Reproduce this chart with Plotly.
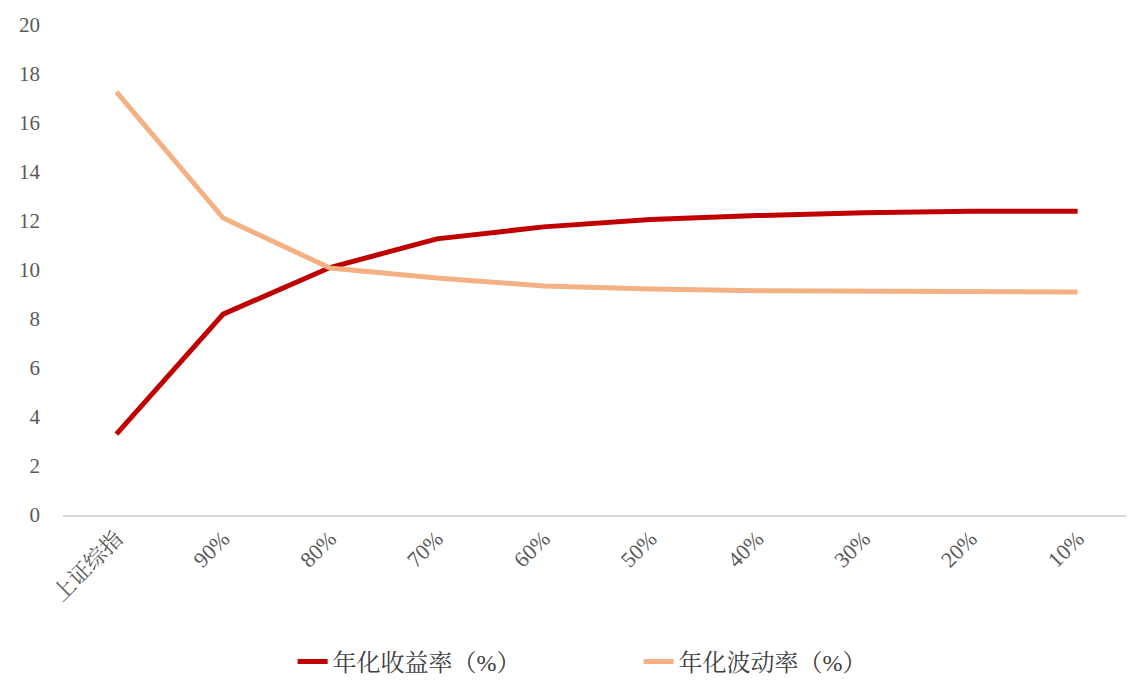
import plotly.graph_objects as go

categories = ["上证综指", "90%", "80%", "70%", "60%", "50%", "40%", "30%", "20%", "10%"]
annual_return = [3.3, 8.2, 10.1, 11.27, 11.76, 12.06, 12.22, 12.34, 12.4, 12.4]
annual_vol = [17.27, 12.12, 10.08, 9.67, 9.35, 9.22, 9.15, 9.14, 9.1, 9.1]
y_ticks = [0, 2, 4, 6, 8, 10, 12, 14, 16, 18, 20]

serif = "Liberation Serif, Noto Serif CJK SC, Noto Sans CJK SC, serif"

fig = go.Figure()
fig.add_trace(go.Scatter(x=categories, y=annual_return, mode="lines",
                         name="年化收益率（%）",
                         line=dict(color="#C00000", width=5)))
fig.add_trace(go.Scatter(x=categories, y=annual_vol, mode="lines",
                         name="年化波动率（%）",
                         line=dict(color="#F4B183", width=5)))

fig.update_layout(
    width=1134, height=687,
    margin=dict(l=55, r=11, t=17, b=180, autoexpand=False),
    paper_bgcolor="white", plot_bgcolor="white",
    font=dict(family=serif, size=21, color="#595959"),
    xaxis=dict(type="category", range=[-0.5, 9.5], tickangle=-45, automargin=False,
               showline=True, linecolor="#D9D9D9", linewidth=2,
               showgrid=False, ticks="", tickfont=dict(size=22, color="#595959")),
    yaxis=dict(range=[0, 20], tickvals=y_ticks, showgrid=False, showline=False,
               zeroline=False, ticks="", ticklabelstandoff=22, automargin=False,
               tickfont=dict(size=21, color="#595959")),
    legend=dict(orientation="h", x=0.215, xanchor="left", y=-0.3, yanchor="middle",
                font=dict(size=24, color="#404040"),
                entrywidth=301, entrywidthmode="pixels"),
    showlegend=True,
)

fig.write_html("out.html")
